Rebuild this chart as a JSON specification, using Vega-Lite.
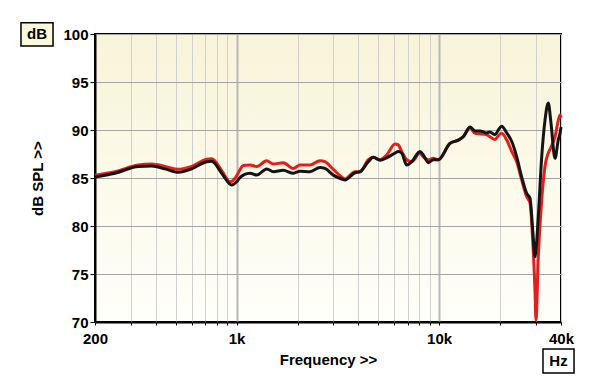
{
  "$schema": "https://vega.github.io/schema/vega-lite/v6.json",
  "width": 466,
  "height": 288,
  "autosize": {"type": "none"},
  "padding": {"left": 95, "top": 34, "right": 39, "bottom": 67},
  "background": "#ffffff",
  "config": {
    "font": "Liberation Sans",
    "view": {
      "stroke": "#000000",
      "strokeWidth": 2,
      "fill": {
        "gradient": "linear",
        "x1": 0, "y1": 0, "x2": 0, "y2": 1,
        "stops": [
          {"offset": 0, "color": "#f8f4d8"},
          {"offset": 1, "color": "#fffffa"}
        ]
      }
    },
    "axisX": {
      "title": "Frequency >>",
      "titleFontSize": 15,
      "titleFontWeight": "bold",
      "titleColor": "#000000",
      "titleY": 42,
      "titleBaseline": "alphabetic",
      "labelFontSize": 15,
      "labelFontWeight": "bold",
      "labelColor": "#000000",
      "labelFlush": false,
      "labelOverlap": false,
      "labelPadding": 6,
      "tickSize": 3,
      "tickColor": "#000000",
      "domainColor": "#000000",
      "domainWidth": 2,
      "grid": true,
      "gridColor": "#d0d0d0"
    },
    "axisY": {
      "titleFontSize": 15,
      "titleFontWeight": "bold",
      "titleColor": "#000000",
      "titleX": -53,
      "titleY": 144,
      "titleAngle": -90,
      "titleAlign": "center",
      "titleBaseline": "alphabetic",
      "labelFontSize": 15,
      "labelFontWeight": "bold",
      "labelColor": "#000000",
      "labelPadding": 2,
      "labelFlush": false,
      "tickSize": 5,
      "tickColor": "#000000",
      "domainColor": "#000000",
      "domainWidth": 2,
      "grid": true,
      "gridColor": "#a4a4a4"
    }
  },
  "datasets": {
    "red": [
      {"f":200,"db":85.3},{"f":251,"db":85.65},{"f":327,"db":86.35},{"f":381,"db":86.45},{"f":443,"db":86.2},{"f":516,"db":85.9},{"f":600,"db":86.2},{"f":712,"db":86.95},{"f":754,"db":87.0},{"f":844,"db":85.8},{"f":928,"db":84.6},{"f":1000,"db":85.2},{"f":1030,"db":85.7},{"f":1080,"db":86.3},{"f":1165,"db":86.35},{"f":1257,"db":86.2},{"f":1409,"db":86.8},{"f":1519,"db":86.45},{"f":1701,"db":86.6},{"f":1907,"db":86.0},{"f":2057,"db":86.35},{"f":2304,"db":86.35},{"f":2582,"db":86.8},{"f":2734,"db":86.7},{"f":3004,"db":85.9},{"f":3305,"db":85.1},{"f":3432,"db":84.9},{"f":3845,"db":85.65},{"f":4070,"db":85.65},{"f":4474,"db":86.9},{"f":4734,"db":87.15},{"f":5110,"db":86.9},{"f":5512,"db":87.4},{"f":6058,"db":88.55},{"f":6290,"db":88.45},{"f":6538,"db":87.75},{"f":6920,"db":86.9},{"f":7326,"db":86.7},{"f":8052,"db":87.6},{"f":8360,"db":87.2},{"f":8848,"db":86.9},{"f":9366,"db":87.05},{"f":9912,"db":86.9},{"f":11320,"db":88.6},{"f":12440,"db":88.95},{"f":13170,"db":89.3},{"f":14220,"db":90.2},{"f":15050,"db":89.65},{"f":15920,"db":89.6},{"f":17190,"db":89.5},{"f":17830,"db":89.3},{"f":18890,"db":89.0},{"f":19610,"db":89.4},{"f":20380,"db":89.65},{"f":21580,"db":88.95},{"f":22850,"db":87.75},{"f":24180,"db":86.7},{"f":25580,"db":84.8},{"f":27080,"db":83.05},{"f":28120,"db":82.4},{"f":29000,"db":78.5},{"f":29760,"db":73.3},{"f":30100,"db":70.2},{"f":30900,"db":76.8},{"f":32120,"db":82.7},{"f":33340,"db":86.2},{"f":34620,"db":87.6},{"f":35700,"db":88.2},{"f":37370,"db":89.3},{"f":38800,"db":91.0},{"f":39560,"db":91.55},{"f":40000,"db":91.3}
    ],
    "black": [
      {"f":200,"db":85.1},{"f":251,"db":85.5},{"f":327,"db":86.2},{"f":381,"db":86.25},{"f":443,"db":85.95},{"f":516,"db":85.6},{"f":600,"db":85.95},{"f":712,"db":86.7},{"f":754,"db":86.75},{"f":844,"db":85.5},{"f":946,"db":84.27},{"f":1000,"db":84.6},{"f":1030,"db":84.95},{"f":1090,"db":85.35},{"f":1165,"db":85.5},{"f":1257,"db":85.3},{"f":1409,"db":85.95},{"f":1519,"db":85.65},{"f":1701,"db":85.8},{"f":1907,"db":85.5},{"f":2057,"db":85.7},{"f":2304,"db":85.65},{"f":2582,"db":86.1},{"f":2734,"db":86.0},{"f":3004,"db":85.3},{"f":3305,"db":84.9},{"f":3432,"db":84.8},{"f":3845,"db":85.55},{"f":4070,"db":85.65},{"f":4474,"db":86.7},{"f":4734,"db":87.15},{"f":5110,"db":86.85},{"f":5512,"db":87.1},{"f":6058,"db":87.6},{"f":6290,"db":87.75},{"f":6538,"db":87.6},{"f":6920,"db":86.35},{"f":7326,"db":86.7},{"f":8052,"db":87.75},{"f":8360,"db":87.4},{"f":8848,"db":86.6},{"f":9366,"db":86.9},{"f":9912,"db":86.9},{"f":11320,"db":88.6},{"f":12440,"db":88.95},{"f":13170,"db":89.3},{"f":14220,"db":90.3},{"f":15050,"db":89.9},{"f":15920,"db":89.9},{"f":17190,"db":89.7},{"f":17830,"db":89.8},{"f":18890,"db":89.5},{"f":19610,"db":90.0},{"f":20380,"db":90.4},{"f":21580,"db":89.7},{"f":22850,"db":88.8},{"f":24180,"db":87.2},{"f":25580,"db":85.1},{"f":27080,"db":83.4},{"f":28120,"db":82.9},{"f":29000,"db":79.6},{"f":29760,"db":76.8},{"f":30100,"db":77.5},{"f":30900,"db":81.0},{"f":32120,"db":87.2},{"f":33340,"db":91.0},{"f":34620,"db":92.8},{"f":35700,"db":90.7},{"f":37370,"db":87.05},{"f":38800,"db":89.0},{"f":39560,"db":89.65},{"f":40000,"db":90.3}
    ]
  },
  "layer": [
    {
      "data": {"name": "red"},
      "mark": {"type": "line", "color": "#e41e1a", "strokeWidth": 3, "interpolate": "monotone", "strokeJoin": "round"},
      "encoding": {
        "x": {
          "field": "f",
          "type": "quantitative",
          "scale": {"type": "log", "domain": [200, 40000], "nice": false},
          "axis": {
            "title": "Frequency >>",
            "values": [200,300,400,500,600,700,800,900,1000,2000,3000,4000,5000,6000,7000,8000,9000,10000,20000,30000,40000],
            "labelExpr": "datum.value == 200 ? '200' : datum.value == 1000 ? '1k' : datum.value == 10000 ? '10k' : datum.value == 40000 ? '40k' : ''",
            "gridColor": {"condition": {"test": "datum.value == 1000 || datum.value == 10000", "value": "#b8b8b8"}, "value": "#d0d0d0"},
            "gridWidth": {"condition": {"test": "datum.value == 1000 || datum.value == 10000", "value": 2}, "value": 1}
          }
        },
        "y": {
          "field": "db",
          "type": "quantitative",
          "scale": {"domain": [70, 100], "nice": false, "zero": false},
          "axis": {
            "title": "dB SPL >>",
            "values": [70, 75, 80, 85, 90, 95, 100]
          }
        }
      }
    },
    {
      "data": {"name": "black"},
      "mark": {"type": "line", "color": "#141414", "strokeWidth": 3, "interpolate": "monotone", "strokeJoin": "round"},
      "encoding": {
        "x": {"field": "f", "type": "quantitative"},
        "y": {"field": "db", "type": "quantitative"}
      }
    },
    {
      "data": {"values": [{"u": "dB"}]},
      "mark": {"type": "rect", "fill": "#fbf8dc", "stroke": "#000000", "strokeWidth": 1.5},
      "encoding": {
        "x": {"datum": 86.2, "type": "quantitative"},
        "x2": {"datum": 124.1},
        "y": {"datum": 101.18, "type": "quantitative"},
        "y2": {"datum": 98.75}
      }
    },
    {
      "data": {"values": [{"u": "dB"}]},
      "mark": {"type": "text", "fontSize": 15, "fontWeight": "bold", "color": "#000000", "align": "center", "baseline": "middle"},
      "encoding": {
        "x": {"datum": 103.4, "type": "quantitative"},
        "y": {"datum": 99.96, "type": "quantitative"},
        "text": {"field": "u"}
      }
    },
    {
      "data": {"values": [{"u": "Hz"}]},
      "mark": {"type": "rect", "fill": "#ffffff", "stroke": "#000000", "strokeWidth": 1.5},
      "encoding": {
        "x": {"datum": 32594, "type": "quantitative"},
        "x2": {"datum": 46380},
        "y": {"datum": 67.19, "type": "quantitative"},
        "y2": {"datum": 64.69}
      }
    },
    {
      "data": {"values": [{"u": "Hz"}]},
      "mark": {"type": "text", "fontSize": 15, "fontWeight": "bold", "color": "#000000", "align": "center", "baseline": "middle"},
      "encoding": {
        "x": {"datum": 38880, "type": "quantitative"},
        "y": {"datum": 65.94, "type": "quantitative"},
        "text": {"field": "u"}
      }
    }
  ]
}
